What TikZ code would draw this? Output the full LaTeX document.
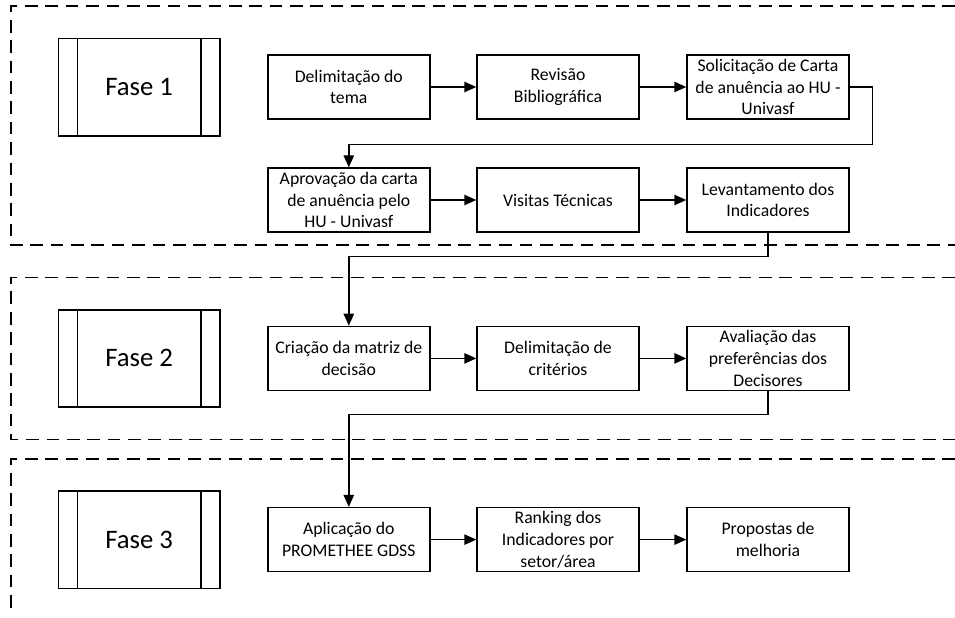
\documentclass[tikz,border=0pt]{standalone}
\usepackage{fontspec}
\setmainfont{Carlito}
\usepackage{tikz}
\usetikzlibrary{arrows.meta,calc,positioning}
\tikzset{
   every path/.style={>={Triangle[length=3mm,width=2.6mm]}},
   etapa/.style={draw,line width=1pt,minimum width=4.05cm,minimum height=1.6cm,inner sep=0pt,align=center,font=\fontsize{12.6}{15.4}\selectfont},
   fase/.style={draw,line width=1pt,minimum width=4.03cm,minimum height=2.43cm,font=\fontsize{19}{23}\selectfont},
   flow/.style={->,line width=1pt},
   zona/.style={line width=1pt,dash pattern=on 9pt off 5.5pt},
}

\begin{document}
\begin{tikzpicture}

\useasboundingbox (0,0) rectangle (23.875,-15.45);

% =========================================================
% zones
% =========================================================

\draw[zona] (23.875,-0.15) -- (0.27,-0.15) -- (0.27,-6.125) -- (23.875,-6.125);
\draw[zona] (23.875,-6.94) -- (0.27,-6.94) -- (0.27,-10.98) -- (23.875,-10.98);
\draw[zona] (23.875,-11.475) -- (0.27,-11.475) -- (0.27,-15.35);


% =========================================================
% Fase 1
% =========================================================

\node[fase] (f1) at (3.48,-2.18) {Fase 1};

\node[etapa] (tema) at (8.72,-2.175) {Delimitação do\\tema};
\node[etapa] (rev) at (13.95,-2.175) {Revisão\\Bibliográfica};
\node[etapa] (sol) at (19.2,-2.175) {Solicitação de Carta\\de anuência ao HU -\\Univasf};

\node[etapa] (aprov) at (8.72,-5.0) {Aprovação da carta\\de anuência pelo\\HU - Univasf};
\node[etapa] (vis) at (13.95,-5.0) {Visitas Técnicas};
\node[etapa] (lev) at (19.2,-5.0) {Levantamento dos\\Indicadores};


% =========================================================
% Fase 2
% =========================================================

\node[fase] (f2) at (3.48,-8.96) {Fase 2};

\node[etapa] (cri) at (8.72,-8.96) {Criação da matriz de\\decisão};
\node[etapa] (crit) at (13.95,-8.96) {Delimitação de\\critérios};
\node[etapa] (aval) at (19.2,-8.96) {Avaliação das\\preferências dos\\Decisores};


% =========================================================
% Fase 3
% =========================================================

\node[fase] (f3) at (3.48,-13.49) {Fase 3};

\node[etapa] (apl) at (8.72,-13.49) {Aplicação do\\PROMETHEE GDSS};
\node[etapa] (rank) at (13.95,-13.49) {Ranking dos\\Indicadores por\\setor/área};
\node[etapa] (prop) at (19.2,-13.49) {Propostas de\\melhoria};


% side bars of the phase boxes
\foreach \f in {f1,f2,f3} {
   \draw[line width=1pt] ([xshift=0.49cm]\f.north west) -- ([xshift=0.49cm]\f.south west);
   \draw[line width=1pt] ([xshift=-0.49cm]\f.north east) -- ([xshift=-0.49cm]\f.south east);
}


% =========================================================
% arrows
% =========================================================

\draw[flow] (tema) -- (rev);
\draw[flow] (rev) -- (sol);
\draw[flow] (sol.east) -- ++(0.575,0) |- ([yshift=0.575cm]aprov.north) -- (aprov.north);
\draw[flow] (aprov) -- (vis);
\draw[flow] (vis) -- (lev);
\draw[flow] (lev.south) -- ++(0,-0.6) -| (cri.north);

\draw[flow] (cri) -- (crit);
\draw[flow] (crit) -- (aval);
\draw[flow] (aval.south) -- ++(0,-0.59) -| (apl.north);

\draw[flow] (apl) -- (rank);
\draw[flow] (rank) -- (prop);

\end{tikzpicture}
\end{document}
